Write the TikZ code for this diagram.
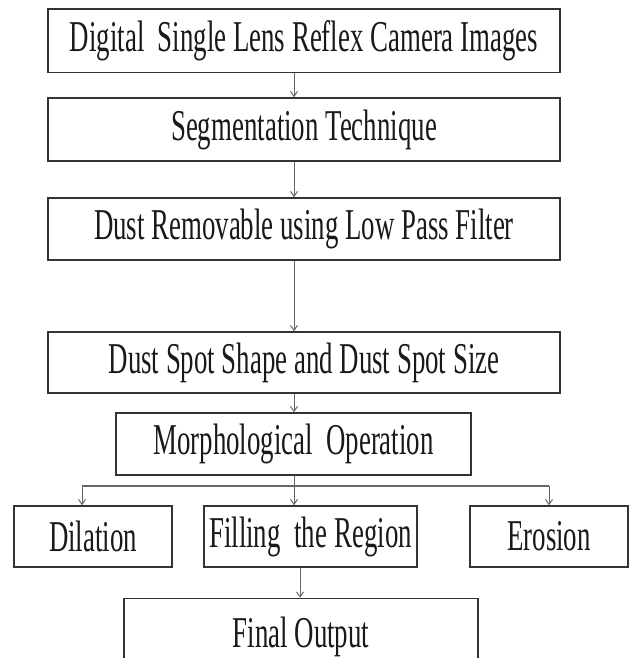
\documentclass[tikz,border=0pt]{standalone}
\usepackage{fontspec}
\setmainfont{Liberation Serif}
\newfontfamily\narrowserif[FakeStretch=0.61]{Liberation Serif}
\usetikzlibrary{arrows.meta,positioning,calc}
\tikzset{>={Straight Barb[length=5pt,width=7pt]}}
\colorlet{boxline}{black!80}
\colorlet{flowline}{black!60}
\tikzset{
  stage/.style={draw=boxline, line width=1.5pt, rectangle, inner sep=0pt,
    minimum height=62pt, text=black!90,
    font=\narrowserif\fontsize{44}{48}\selectfont},
  flow/.style={->, draw=flowline, line width=1pt},
  bus/.style={draw=flowline, line width=1.2pt}
}

\begin{document}
\begin{tikzpicture}[x=1pt,y=1pt]
  \useasboundingbox (0,0) rectangle (631,658);

  % main column
  \node[stage, minimum width=512pt, minimum height=63.5pt] at (304,617) (dslr) {Digital\ \ Single\ Lens Reflex Camera Images};
  \node[stage, minimum width=512pt, minimum height=63pt] at (304,528.5) (segm) {Segmentation Technique};
  \node[stage, minimum width=512pt] at (304,429) (dust) {Dust Removable using Low Pass Filter};
  \node[stage, minimum width=512pt, minimum height=61pt] at (304,295.5) (spot) {Dust Spot Shape and Dust Spot Size};
  \node[stage, minimum width=355pt] at (293.5,214) (morph) {Morphological\ \ Operation};

  % operations
  \node[stage, minimum width=158pt, minimum height=61pt] at (93,121.5) (dil) {Dilation};
  \node[stage, minimum width=213pt, minimum height=61pt] at (310.5,121.5) (fill) {Filling\ \ the\,Region};
  \node[stage, minimum width=158pt, minimum height=61pt] at (549,121.5) (ero) {Erosion};

  % cut off by the page edge
  \node[stage, minimum width=354pt, minimum height=80pt, text depth=0pt] at (301,19.5) (final) {\raisebox{13pt}{Final Output}};

  \coordinate (axis) at (294,0);
  \coordinate (outx) at (300,0);
  \coordinate (busL) at (82,172);
  \coordinate (busR) at (549,172);

  \draw[flow] (dslr.south -| axis) -- (segm.north -| axis);
  \draw[flow] (segm.south -| axis) -- (dust.north -| axis);
  \draw[flow] (dust.south -| axis) -- (spot.north -| axis);
  \draw[flow] (spot.south -| axis) -- (morph.north -| axis);

  \draw[bus] (busL) -- (busR);
  \draw[flow] (morph.south -| axis) -- (fill.north -| axis);
  \draw[flow] (busL) -- (dil.north -| busL);
  \draw[flow] (busR) -- (ero.north -| busR);
  \draw[flow] (fill.south -| outx) -- (final.north -| outx);
\end{tikzpicture}
\end{document}
